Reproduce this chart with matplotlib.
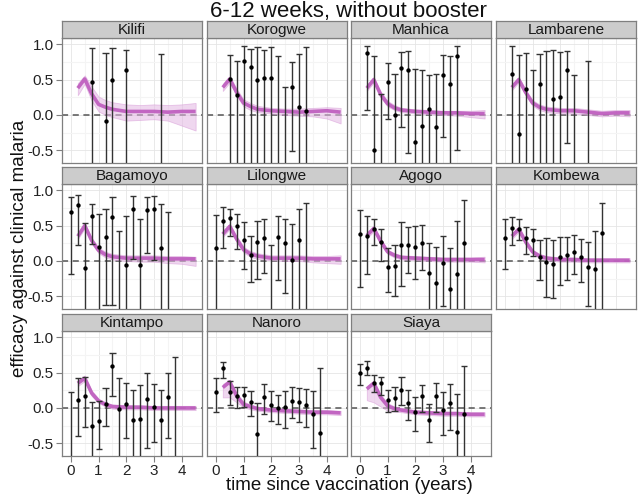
import matplotlib

matplotlib.use("Agg")
import matplotlib.pyplot as plt

plt.rcParams.update({"font.family": ["Liberation Sans", "DejaVu Sans"]})

sites = ["Kilifi", "Korogwe", "Manhica", "Lambarene", "Bagamoyo", "Lilongwe",
         "Agogo", "Kombewa", "Kintampo", "Nanoro", "Siaya"]

q16 = [0, 0.25, 0.5, 0.75, 1.0, 1.25, 1.5, 1.75, 2.0, 2.25, 2.5, 2.75, 3.0, 3.25, 3.5, 3.75]

# observed efficacy per site (values below -0.68 fall outside the panel)
obs_time = [
    [0.75, 1.25, 1.5, 2.0, 3.25],
    q16[2:14],
    q16[1:15],
    q16[1:11] + [3.0],
    q16[:15],
    q16[:14],
    q16,
    q16[:15],
    q16,
    q16,
    q16,
]
obs_est = [
    [0.47, -0.08, 0.50, 0.64, -0.9],
    [0.51, 0.28, 0.77, 0.68, 0.50, 0.52, 0.52, -0.9, -0.9, 0.40, 0.11, 0.05],
    [0.88, -0.50, -0.9, 0.47, 0.0, 0.66, 0.64, -0.38, -0.15, 0.09, -0.17, 0.57, 0.44, 0.84],
    [0.58, -0.27, 0.37, -0.9, 0.44, -0.9, 0.23, 0.25, 0.63, -0.9, -0.9],
    [0.70, 0.79, -0.10, 0.63, 0.20, 0.34, 0.62, -0.9, -0.05, 0.74, -0.06, 0.72, 0.74, 0.18, -0.9],
    [0.19, 0.57, 0.61, 0.49, 0.29, 0.09, 0.27, 0.32, -0.9, 0.34, 0.25, 0.01, 0.29, -0.9],
    [0.38, 0.35, 0.45, 0.27, -0.08, -0.07, 0.22, 0.22, 0.20, 0.26, -0.17, -0.31, -0.03, -0.39, -0.18, 0.26],
    [0.33, 0.46, 0.45, 0.32, 0.30, 0.06, -0.01, -0.04, 0.06, 0.08, 0.13, 0.05, -0.09, -0.11, 0.40],
    [-0.9, 0.12, 0.17, -0.25, -0.19, 0.06, 0.59, -0.01, 0.05, -0.17, -0.15, 0.13, 0.01, -0.17, 0.16, -0.9],
    [0.22, 0.56, 0.23, 0.17, 0.19, 0.09, -0.37, 0.16, 0.04, 0.0, 0.01, 0.10, 0.08, 0.04, -0.09, -0.36],
    [0.50, 0.57, 0.36, 0.35, 0.12, 0.14, 0.26, 0.07, -0.06, 0.17, -0.17, 0.17, -0.03, 0.07, -0.34, -0.08],
]
obs_upper = [
    [0.95, 0.88, 0.95, 0.92, 0.87],
    [0.85, 0.77, 0.97, 0.93, 0.96, 0.92, 0.96, 0.84, 0.39, 0.75, 0.86, 0.96],
    [0.98, 0.83, 0.29, 0.73, 0.58, 0.89, 0.90, 0.65, 0.64, 0.56, 0.58, 0.85, 0.83, 0.97],
    [0.97, 0.85, 0.88, 0.63, 0.86, 0.91, 0.92, 0.89, 0.90, 0.57, 0.77],
    [0.91, 0.93, 0.54, 0.81, 0.66, 0.73, 0.90, 0.42, 0.64, 0.92, 0.60, 0.90, 0.92, 0.81, 0.70],
    [0.65, 0.77, 0.74, 0.67, 0.55, 0.36, 0.57, 0.60, 0.23, 0.64, 0.60, 0.52, 0.73, 0.82],
    [0.72, 0.63, 0.59, 0.45, 0.19, 0.23, 0.55, 0.48, 0.49, 0.51, 0.25, 0.20, 0.35, 0.18, 0.57, 0.87],
    [0.60, 0.62, 0.59, 0.48, 0.45, 0.30, 0.32, 0.29, 0.34, 0.34, 0.37, 0.31, 0.27, 0.43, 0.82],
    [0.22, 0.43, 0.44, 0.09, 0.10, 0.28, 0.78, 0.42, 0.36, 0.25, 0.33, 0.50, 0.34, 0.25, 0.50, 0.72],
    [0.42, 0.65, 0.38, 0.30, 0.30, 0.24, 0.07, 0.34, 0.24, 0.19, 0.24, 0.30, 0.28, 0.27, 0.24, 0.57],
    [0.62, 0.66, 0.46, 0.44, 0.25, 0.29, 0.44, 0.26, 0.16, 0.33, 0.05, 0.36, 0.23, 0.34, 0.20, 0.59],
]
obs_lower = [
    [-1, -1, -1, -1, -1],
    [-1, -1, -1, -1, -1, -1, -1, -1, -1, -0.51, -1, -1],
    [0.07, -1, -1, -0.05, -1, -0.17, -0.54, -1, -1, -1, -1, -0.31, -1, -0.50],
    [-1, -1, -1, -1, -1, -1, -1, -1, -0.40, -1, -1],
    [-0.18, 0.23, -1, 0.24, -1, -0.63, -0.62, -1, -1, 0.03, -1, 0.11, 0.02, -1, -1],
    [-1, 0.19, 0.36, 0.17, -0.12, -0.30, -0.25, -0.17, -1, -0.27, -0.45, -1, -1, -1],
    [-0.37, -0.18, 0.22, 0.0, -0.44, -0.49, -0.35, -0.17, -0.26, -0.13, -1, -1, -0.64, -1, -1, -1],
    [-0.12, 0.22, 0.30, 0.10, 0.07, -0.27, -0.51, -0.52, -0.34, -0.27, -0.19, -0.30, -0.64, -1, -1],
    [-1, -0.39, -0.27, -1, -0.58, -0.25, 0.17, -1, -0.42, -1, -1, -0.56, -0.48, -1, -0.43, -1],
    [-0.06, 0.42, 0.04, 0.0, 0.02, -0.11, -1, -0.08, -0.19, -0.23, -0.28, -0.14, -0.20, -0.27, -0.57, -1],
    [0.32, 0.46, 0.23, 0.19, -0.05, -0.04, 0.04, -0.17, -0.33, -0.06, -0.48, -0.06, -0.38, -0.31, -1, -1],
]

# fitted model curve with its uncertainty band
model_time = [0.25, 0.5, 0.75, 1.0, 1.25, 1.5, 2.0, 2.5, 3.0, 3.5, 4.0, 4.5]
model_est = [
    [0.38, 0.51, 0.30, 0.15, 0.11, 0.08, 0.05, 0.05, 0.05, 0.04, 0.05, 0.05],
    [0.39, 0.51, 0.32, 0.17, 0.12, 0.08, 0.06, 0.05, 0.04, 0.05, 0.06, 0.04],
    [0.38, 0.50, 0.29, 0.16, 0.10, 0.07, 0.05, 0.04, 0.03, 0.03, 0.02, 0.02],
    [0.39, 0.50, 0.32, 0.17, 0.11, 0.08, 0.06, 0.06, 0.04, 0.02, 0.03, 0.03],
    [0.35, 0.50, 0.29, 0.15, 0.09, 0.06, 0.04, 0.04, 0.04, 0.03, 0.03, 0.03],
    [0.38, 0.49, 0.31, 0.16, 0.10, 0.07, 0.04, 0.04, 0.04, 0.03, 0.03, 0.03],
    [0.36, 0.46, 0.28, 0.13, 0.08, 0.05, 0.04, 0.03, 0.02, 0.02, 0.02, 0.02],
    [0.35, 0.45, 0.27, 0.13, 0.07, 0.04, 0.02, 0.02, 0.01, 0.01, 0.01, 0.01],
    [0.35, 0.42, 0.21, 0.10, 0.05, 0.02, 0.01, 0.01, 0.0, 0.0, 0.0, 0.0],
    [0.29, 0.37, 0.17, 0.05, 0.02, -0.01, -0.03, -0.04, -0.05, -0.06, -0.06, -0.07],
    [0.27, 0.35, 0.15, 0.03, -0.01, -0.03, -0.06, -0.07, -0.08, -0.08, -0.09, -0.09],
]
model_lo = [
    [0.28, 0.44, 0.20, 0.05, 0.0, -0.03, -0.08, -0.07, -0.06, -0.08, -0.15, -0.22],
    [0.34, 0.46, 0.27, 0.12, 0.07, 0.04, 0.02, 0.0, -0.01, -0.02, -0.05, -0.12],
    [0.34, 0.46, 0.25, 0.12, 0.07, 0.04, 0.02, 0.01, 0.0, -0.01, -0.03, -0.05],
    [0.35, 0.46, 0.28, 0.13, 0.07, 0.04, 0.02, 0.02, 0.0, -0.02, -0.01, -0.02],
    [0.31, 0.46, 0.25, 0.11, 0.05, 0.02, 0.0, -0.01, -0.01, -0.03, -0.04, -0.07],
    [0.34, 0.45, 0.27, 0.12, 0.06, 0.03, 0.01, 0.0, 0.0, -0.02, -0.03, -0.04],
    [0.32, 0.42, 0.24, 0.10, 0.05, 0.02, 0.01, 0.0, -0.01, -0.01, -0.01, -0.02],
    [0.31, 0.41, 0.23, 0.10, 0.04, 0.01, -0.01, -0.01, -0.02, -0.02, -0.02, -0.02],
    [0.31, 0.38, 0.17, 0.07, 0.02, -0.01, -0.02, -0.02, -0.03, -0.03, -0.03, -0.03],
    [0.15, 0.15, 0.08, 0.01, -0.02, -0.04, -0.06, -0.07, -0.08, -0.09, -0.09, -0.10],
    [0.11, 0.08, 0.02, -0.04, -0.05, -0.06, -0.09, -0.10, -0.11, -0.11, -0.12, -0.12],
]
model_hi = [
    [0.45, 0.56, 0.40, 0.26, 0.21, 0.18, 0.15, 0.14, 0.15, 0.14, 0.15, 0.17],
    [0.44, 0.55, 0.37, 0.22, 0.17, 0.13, 0.10, 0.09, 0.09, 0.10, 0.11, 0.10],
    [0.42, 0.54, 0.33, 0.20, 0.14, 0.10, 0.08, 0.07, 0.06, 0.06, 0.06, 0.07],
    [0.43, 0.54, 0.36, 0.21, 0.15, 0.12, 0.10, 0.10, 0.08, 0.06, 0.07, 0.07],
    [0.39, 0.54, 0.33, 0.19, 0.13, 0.10, 0.08, 0.08, 0.08, 0.07, 0.07, 0.06],
    [0.42, 0.53, 0.35, 0.20, 0.14, 0.11, 0.08, 0.08, 0.08, 0.07, 0.07, 0.08],
    [0.40, 0.50, 0.32, 0.16, 0.11, 0.08, 0.07, 0.06, 0.05, 0.05, 0.05, 0.06],
    [0.39, 0.49, 0.31, 0.16, 0.10, 0.07, 0.05, 0.05, 0.04, 0.04, 0.04, 0.04],
    [0.39, 0.46, 0.25, 0.13, 0.08, 0.05, 0.04, 0.04, 0.03, 0.03, 0.03, 0.03],
    [0.34, 0.40, 0.21, 0.09, 0.05, 0.02, 0.0, -0.01, -0.02, -0.03, -0.03, -0.04],
    [0.31, 0.39, 0.19, 0.07, 0.02, 0.0, -0.03, -0.04, -0.05, -0.05, -0.06, -0.06],
]

W, H = 638, 499
col_left = [62, 207, 351, 496]
row_top = [38, 184, 331]
panel_w, panel_h, strip_h = 140, 125, 17

fig = plt.figure(figsize=(W / 100, H / 100), dpi=100)

for i, site in enumerate(sites):
    r, c = divmod(i, 4)
    x0, y0 = col_left[c], row_top[r]
    ax = fig.add_axes([x0 / W, 1 - (y0 + panel_h) / H, panel_w / W, panel_h / H])
    ax.set_xlim(-0.32, 4.73)
    ax.set_ylim(-0.68, 1.09)

    ax.set_xticks([0, 1, 2, 3, 4])
    ax.set_xticks([0.5, 1.5, 2.5, 3.5], minor=True)
    ax.set_yticks([-0.5, 0.0, 0.5, 1.0])
    ax.set_yticks([-0.25, 0.25, 0.75], minor=True)
    ax.grid(True, which="major", color="#e5e5e5", lw=0.6, zorder=0)
    ax.grid(True, which="minor", color="#f4f4f4", lw=0.8, zorder=0)
    ax.set_axisbelow(True)
    for s in ax.spines.values():
        s.set_color("#7f7f7f")
        s.set_linewidth(0.9)
    ax.tick_params(which="minor", length=0)
    ax.tick_params(which="major", length=4, width=0.8, color="#7f7f7f",
                   labelsize=11, labelcolor="#222222", pad=2)
    if c != 0:
        ax.tick_params(axis="y", length=0, labelleft=False)
    else:
        ax.set_yticklabels(["-0.5", "0.0", "0.5", "1.0"])
    if r != 2:
        ax.tick_params(axis="x", length=0, labelbottom=False)

    ax.axhline(0, color="#555555", lw=1.1, ls=(0, (4, 3)), zorder=2)

    ax.fill_between(model_time, model_lo[i], model_hi[i], color="#e3b7e3",
                    alpha=0.55, edgecolor="#d79ad7", lw=0.6, zorder=3)
    ax.plot(model_time, model_est[i], color="#bd5abd", lw=2.6, alpha=0.9,
            solid_capstyle="butt", zorder=4)

    t = obs_time[i]
    ax.vlines(t, obs_lower[i], obs_upper[i], color="#333333", lw=1.0, zorder=5)
    ax.hlines(obs_upper[i], [v - 0.11 for v in t], [v + 0.11 for v in t],
              color="#333333", lw=1.0, zorder=5)
    ax.hlines(obs_lower[i], [v - 0.11 for v in t], [v + 0.11 for v in t],
              color="#333333", lw=1.0, zorder=5)
    ax.scatter(t, obs_est[i], s=10, color="black", zorder=6, linewidths=0)

    # facet strip
    sax = fig.add_axes([x0 / W, 1 - y0 / H, panel_w / W, strip_h / H])
    sax.set_xticks([])
    sax.set_yticks([])
    sax.set_facecolor("#cccccc")
    for s in sax.spines.values():
        s.set_color("#7f7f7f")
        s.set_linewidth(0.9)
    sax.text(0.5, 0.45, site, ha="center", va="center", fontsize=11,
             color="#1a1a1a", transform=sax.transAxes)

fig.text(348 / W, 1 - 11 / H, "6-12 weeks, without booster", ha="center",
         va="center", fontsize=16, color="#111111")
fig.text(349 / W, 1 - 486 / H, "time since vaccination (years)", ha="center",
         va="center", fontsize=13.5, color="#111111")
fig.text(20 / W, 1 - 248 / H, "efficacy against clinical malaria", ha="center",
         va="center", rotation=90, fontsize=13.5, color="#111111")

fig.savefig("out.png", dpi=100)
